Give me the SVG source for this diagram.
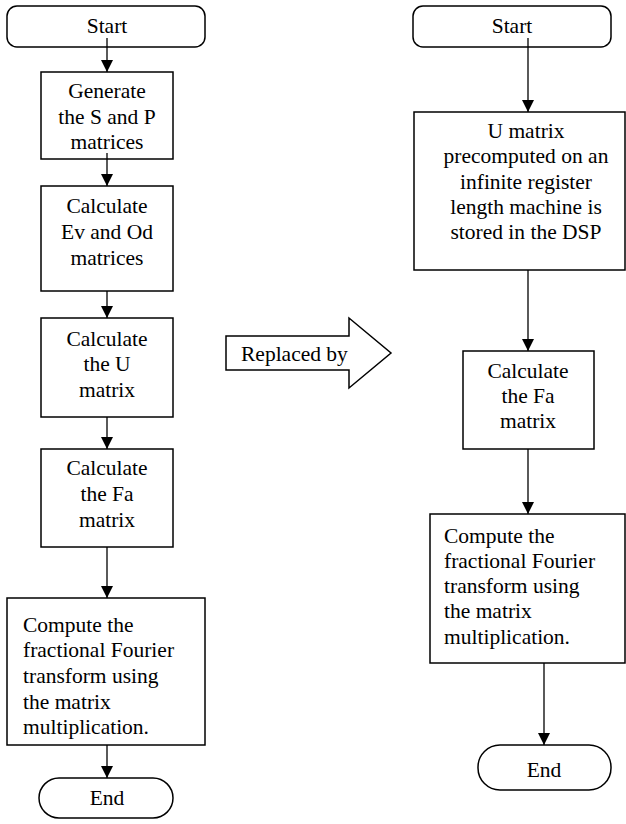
<svg xmlns="http://www.w3.org/2000/svg" width="626" height="824" viewBox="0 0 626 824">
<defs>
<style>
.box{fill:#fff;stroke:#000;stroke-width:1.5}
.ln{fill:none;stroke:#000;stroke-width:1.3}
text{font-family:"Liberation Serif","Times New Roman",serif;font-size:21.5px;fill:#000}
.c{text-anchor:middle}
</style>
<marker id="ah" viewBox="0 0 12 12" refX="12" refY="6" markerWidth="12" markerHeight="12" markerUnits="userSpaceOnUse" orient="auto">
<path d="M0,0 L12,6 L0,12 Z" fill="#000"/>
</marker>
</defs>
<rect width="626" height="824" fill="#fff"/>
<g id="l-start">
<rect class="box" x="7" y="6" width="198" height="41" rx="10"/>
<text class="c" x="107" y="33">Start</text>
</g>
<g id="l-gen">
<rect class="box" x="41" y="72" width="132" height="87"/>
<text class="c" x="107" y="98">Generate</text>
<text class="c" x="107" y="124">the S and P</text>
<text class="c" x="107" y="149">matrices</text>
</g>
<g id="l-evod">
<rect class="box" x="41" y="186" width="132" height="105"/>
<text class="c" x="107" y="213">Calculate</text>
<text class="c" x="107" y="239">Ev and Od</text>
<text class="c" x="107" y="265">matrices</text>
</g>
<g id="l-u">
<rect class="box" x="41" y="318" width="132" height="99"/>
<text class="c" x="107" y="346">Calculate</text>
<text class="c" x="107" y="371">the U</text>
<text class="c" x="107" y="397">matrix</text>
</g>
<g id="l-fa">
<rect class="box" x="41" y="449" width="132" height="98"/>
<text class="c" x="107" y="475">Calculate</text>
<text class="c" x="107" y="501">the Fa</text>
<text class="c" x="107" y="527">matrix</text>
</g>
<g id="l-compute">
<rect class="box" x="7" y="598" width="198" height="147"/>
<text x="23" y="632">Compute the</text>
<text x="23" y="657">fractional Fourier</text>
<text x="23" y="683">transform using</text>
<text x="23" y="709">the matrix</text>
<text x="23" y="734">multiplication.</text>
</g>
<g id="l-end">
<rect class="box" x="39" y="778" width="134" height="40" rx="20"/>
<text class="c" x="107" y="805">End</text>
</g>
<g id="replaced">
<path class="box" d="M226,336 L349,336 L349,318 L391,353 L349,388 L349,370 L226,370 Z"/>
<text x="241" y="361">Replaced by</text>
</g>
<g id="r-start">
<rect class="box" x="413" y="6" width="198" height="41" rx="10"/>
<text class="c" x="512" y="33">Start</text>
</g>
<g id="r-u">
<rect class="box" x="414" y="112" width="211" height="158"/>
<text class="c" x="526" y="138">U matrix</text>
<text class="c" x="526" y="163">precomputed on an</text>
<text class="c" x="526" y="189">infinite register</text>
<text class="c" x="526" y="214">length machine is</text>
<text class="c" x="526" y="239">stored in the DSP</text>
</g>
<g id="r-fa">
<rect class="box" x="463" y="351" width="131" height="98"/>
<text class="c" x="528" y="378">Calculate</text>
<text class="c" x="528" y="403">the Fa</text>
<text class="c" x="528" y="428">matrix</text>
</g>
<g id="r-compute">
<rect class="box" x="430" y="514" width="195" height="149"/>
<text x="444" y="543">Compute the</text>
<text x="444" y="568">fractional Fourier</text>
<text x="444" y="593">transform using</text>
<text x="444" y="618">the matrix</text>
<text x="444" y="644">multiplication.</text>
</g>
<g id="r-end">
<rect class="box" x="478" y="745" width="133" height="45" rx="22"/>
<text class="c" x="544" y="777">End</text>
</g>
<g id="connectors">
<line class="ln" x1="107" y1="38" x2="107" y2="72" marker-end="url(#ah)"/>
<line class="ln" x1="107" y1="153" x2="107" y2="186" marker-end="url(#ah)"/>
<line class="ln" x1="107" y1="291" x2="107" y2="318" marker-end="url(#ah)"/>
<line class="ln" x1="107" y1="417" x2="107" y2="449" marker-end="url(#ah)"/>
<line class="ln" x1="107" y1="547" x2="107" y2="598" marker-end="url(#ah)"/>
<line class="ln" x1="107" y1="745" x2="107" y2="778" marker-end="url(#ah)"/>
<line class="ln" x1="528" y1="38" x2="528" y2="112" marker-end="url(#ah)"/>
<line class="ln" x1="528" y1="270" x2="528" y2="351" marker-end="url(#ah)"/>
<line class="ln" x1="528" y1="449" x2="528" y2="514" marker-end="url(#ah)"/>
<line class="ln" x1="544" y1="663" x2="544" y2="745" marker-end="url(#ah)"/>
</g>
</svg>
